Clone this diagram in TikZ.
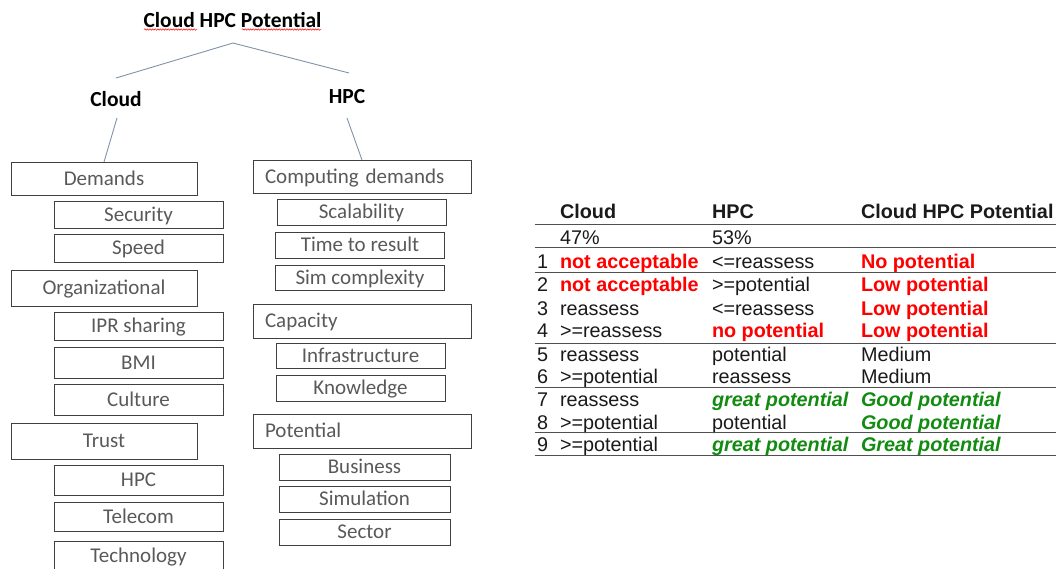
\documentclass[tikz,border=0pt]{standalone}
\usepackage{fontspec}
\setmainfont{Carlito}
\newfontfamily\tabfont{Liberation Sans}
\usetikzlibrary{decorations.pathmorphing}
\definecolor{boxtext}{HTML}{595959}
\definecolor{boxline}{HTML}{404040}
\definecolor{treeline}{HTML}{7F93A8}
\definecolor{badred}{HTML}{FF0000}
\definecolor{goodgreen}{HTML}{118C11}
\definecolor{rulegray}{HTML}{505050}
\definecolor{inkblack}{HTML}{1A1A1A}

\begin{document}
\begin{tikzpicture}[x=1pt,y=-1pt,
  every node/.style={inner sep=0pt, outer sep=0pt},
  heading/.style={font=\fontsize{21.5}{24}\selectfont\bfseries},
  branch/.style={draw=treeline, line width=0.9pt},
  squiggle/.style={draw=badred, line width=0.5pt, decorate,
    decoration={snake, amplitude=0.7pt, segment length=2.6pt}},
  item/.style={draw=boxline, line width=0.9pt, text=boxtext,
    font=\fontsize{21}{24}\selectfont, text height=16pt, text depth=3pt},
  leftmain/.style={item, minimum width=186pt},
  leftsub/.style={item, minimum width=169pt},
  rightmain/.style={item, text width=194pt, inner xsep=12pt, align=left},
  rightsub/.style={item, minimum width=169pt},
  rightsubb/.style={item, minimum width=171pt},
  tab/.style={anchor=base west, text=inkblack, font=\tabfont\fontsize{19.8}{22}\selectfont},
  tabhead/.style={tab, font=\tabfont\fontsize{19.8}{22}\selectfont\bfseries},
  bad/.style={tab, text=badred, font=\tabfont\fontsize{19.8}{22}\selectfont\bfseries},
  good/.style={tab, text=goodgreen, font=\tabfont\fontsize{19.8}{22}\selectfont\bfseries\itshape},
  tabrule/.style={draw=rulegray, line width=0.9pt}
]
\useasboundingbox (0,0) rectangle (1060,568);
\clip (0,0) rectangle (1060,568);

% ---- tree heading ----
\node[heading] (title) at (232.5,20) {Cloud HPC Potential};
\draw[squiggle] (144,29.5) -- (197,29.5);
\draw[squiggle] (242,29.5) -- (321,29.5);
\node[heading] (cloud) at (116,99) {Cloud};
\node[heading] (hpc) at (347,97) {HPC};

\coordinate (apex) at (233,43);
\coordinate (cloudtip) at (116,78);
\coordinate (hpctip) at (349,73);
\coordinate (cloudfoot) at (117,118);
\coordinate (hpcfoot) at (347,118);

% ---- Cloud branch ----
\node[leftmain, minimum height=33pt] (dem) at (104,178.5) {Demands};
\node[leftsub, minimum height=27pt] (sec) at (138.5,214.5) {Security};
\node[leftsub, minimum height=28pt] (spd) at (138.5,248) {Speed};
\node[leftmain, minimum height=36pt] (org) at (104,288) {Organizational};
\node[leftsub, minimum height=28pt] (ipr) at (138.5,326) {IPR sharing};
\node[leftsub, minimum height=31pt] (bmi) at (138.5,362.5) {BMI};
\node[leftsub, minimum height=31pt] (cul) at (138.5,399.5) {Culture};
\node[leftmain, minimum height=36pt] (tru) at (104,441) {Trust};
\node[leftsub, minimum height=30pt] (thpc) at (138.5,480) {HPC};
\node[leftsub, minimum height=29pt] (tel) at (138.5,516.5) {Telecom};
\node[leftsub, minimum height=30pt] (tec) at (138.5,556) {Technology};

% ---- HPC branch ----
\node[rightmain, minimum height=33pt] (comp) at (362,176.5) {Computing demands};
\node[rightsub, minimum height=26pt] (sca) at (361.5,212) {Scalability};
\node[rightsub, minimum height=26pt] (ttr) at (360,245) {Time to result};
\node[rightsub, minimum height=25pt] (sim) at (360,277.5) {Sim complexity};
\node[rightmain, minimum height=34pt] (cap) at (362,321) {Capacity};
\node[rightsub, minimum height=25pt] (inf) at (360.5,355.5) {Infrastructure};
\node[rightsub, minimum height=26pt] (kno) at (360.5,388) {Knowledge};
\node[rightmain, minimum height=34pt] (pot) at (362,431) {Potential};
\node[rightsubb, minimum height=26pt] (bus) at (364.5,467) {Business};
\node[rightsubb, minimum height=26pt] (simu) at (364.5,499) {Simulation};
\node[rightsubb, minimum height=26pt] (sect) at (364.5,532) {Sector};

% ---- tree connectors ----
\draw[branch] (apex) -- (cloudtip);
\draw[branch] (apex) -- (hpctip);
\draw[branch] (cloudfoot) -- (dem.north);
\draw[branch] (hpcfoot) -- (comp.north);

% ---- combination table ----
\node[tabhead] (h1) at (560,218.3) {Cloud};
\node[tabhead] (h2) at (712,218.3) {HPC};
\node[tabhead] (h3) at (861,218.3) {Cloud HPC Potential};
\node[tab] (p1) at (560,244) {47\%};
\node[tab] (p2) at (712,244) {53\%};

\node[tab] (n1) at (537,268.3) {1};
\node[bad] (a1) at (560,268.3) {not acceptable};
\node[tab] (b1) at (712,268.3) {<=reassess};
\node[bad] (c1) at (861,268.3) {No potential};

\node[tab] (n2) at (537,291.7) {2};
\node[bad] (a2) at (560,291.7) {not acceptable};
\node[tab] (b2) at (712,291.7) {>=potential};
\node[bad] (c2) at (861,291.7) {Low potential};

\node[tab] (n3) at (537,315) {3};
\node[tab] (a3) at (560,315) {reassess};
\node[tab] (b3) at (712,315) {<=reassess};
\node[bad] (c3) at (861,315) {Low potential};

\node[tab] (n4) at (537,337.5) {4};
\node[tab] (a4) at (560,337.5) {>=reassess};
\node[bad] (b4) at (712,337.5) {no potential};
\node[bad] (c4) at (861,337.5) {Low potential};

\node[tab] (n5) at (537,361) {5};
\node[tab] (a5) at (560,361) {reassess};
\node[tab] (b5) at (712,361) {potential};
\node[tab] (c5) at (861,361) {Medium};

\node[tab] (n6) at (537,383.3) {6};
\node[tab] (a6) at (560,383.3) {>=potential};
\node[tab] (b6) at (712,383.3) {reassess};
\node[tab] (c6) at (861,383.3) {Medium};

\node[tab] (n7) at (537,406) {7};
\node[tab] (a7) at (560,406) {reassess};
\node[good] (b7) at (712,406) {great potential};
\node[good] (c7) at (861,406) {Good potential};

\node[tab] (n8) at (537,429.3) {8};
\node[tab] (a8) at (560,429.3) {>=potential};
\node[tab] (b8) at (712,429.3) {potential};
\node[good] (c8) at (861,429.3) {Good potential};

\node[tab] (n9) at (537,451.7) {9};
\node[tab] (a9) at (560,451.7) {>=potential};
\node[good] (b9) at (712,451.7) {great potential};
\node[good] (c9) at (861,451.7) {Great potential};

\foreach \ry in {224,247.5,272.3,343.5,387.5,432.5,455.7}
  \draw[tabrule] (535,\ry) -- (1056,\ry);
\end{tikzpicture}
\end{document}
